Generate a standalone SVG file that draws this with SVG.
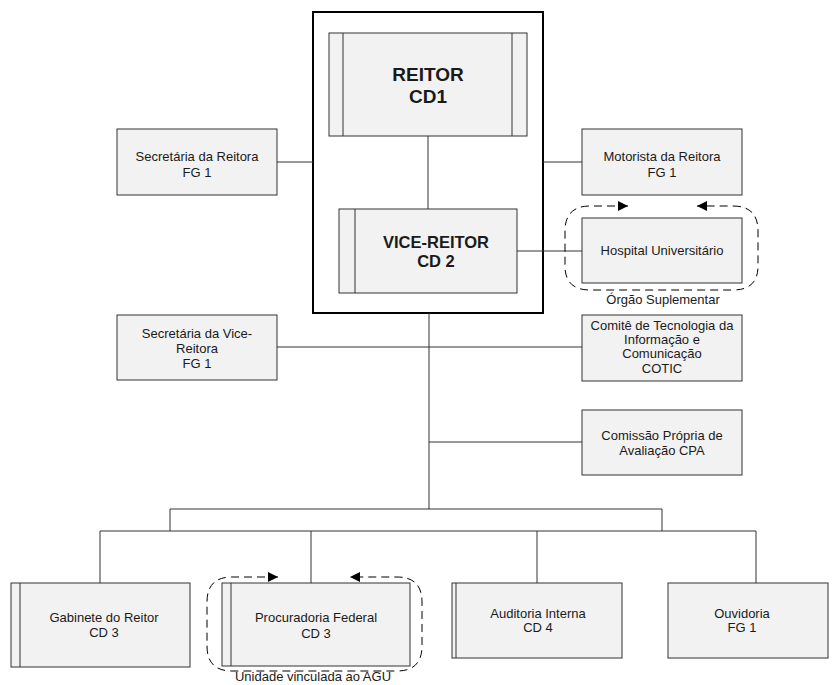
<svg xmlns="http://www.w3.org/2000/svg" width="835" height="685" viewBox="0 0 835 685">
  <defs>
    <marker id="arrow" viewBox="0 0 10 10" refX="10" refY="5" markerWidth="10" markerHeight="10" markerUnits="userSpaceOnUse" orient="auto-start-reverse">
      <path d="M0,0 L10,5 L0,10 z" fill="#000"/>
    </marker>
  </defs>
  <style>
    .box { fill: #f2f2f2; stroke: #333; stroke-width: 1; }
    .bar { stroke: #333; stroke-width: 1; fill: none; }
    .frame { fill: #fff; stroke: #000; stroke-width: 2; }
    .link { stroke: #333; stroke-width: 1; fill: none; }
    .loop { stroke: #000; stroke-width: 1; fill: none; stroke-dasharray: 8 5; }
    text { font-family: "Liberation Sans", Arial, sans-serif; fill: #1a1a1a; text-anchor: middle; }
    .t { font-size: 13px; }
    .big { font-size: 19px; font-weight: bold; }
    .mid { font-size: 16.5px; font-weight: bold; }
    .cap { font-size: 13px; }
  </style>

  <rect id="white" x="0" y="0" width="835" height="685" fill="#fff"/>

  <!-- frame around rector and vice-rector -->
  <rect id="frame" class="frame" x="313" y="12" width="230" height="301"/>

  <!-- connectors -->
  <g id="connectors">
    <line class="link" x1="428" y1="136" x2="428" y2="209"/>
    <line class="link" x1="277" y1="162" x2="313" y2="162"/>
    <line class="link" x1="543" y1="162" x2="582" y2="162"/>
    <line class="link" x1="517" y1="251" x2="582" y2="251"/>
    <line class="link" x1="429" y1="313" x2="429" y2="509"/>
    <line class="link" x1="277" y1="347" x2="582" y2="347"/>
    <line class="link" x1="429" y1="442" x2="582" y2="442"/>
    <polyline class="link" points="170,531 170,509 662,509 662,531"/>
    <line class="link" x1="100" y1="531" x2="756" y2="531"/>
    <line class="link" x1="100" y1="531" x2="100" y2="583"/>
    <line class="link" x1="311" y1="531" x2="311" y2="583"/>
    <line class="link" x1="537" y1="531" x2="537" y2="583"/>
    <line class="link" x1="756" y1="531" x2="756" y2="583"/>
  </g>

  <g id="reitor">
    <rect class="box" x="329" y="33" width="198" height="103"/>
    <line class="bar" x1="343" y1="33" x2="343" y2="136"/>
    <line class="bar" x1="512" y1="33" x2="512" y2="136"/>
    <text class="big" x="428" y="81">REITOR</text>
    <text class="big" x="428" y="103">CD1</text>
  </g>

  <g id="vice-reitor">
    <rect class="box" x="339" y="209" width="178" height="84"/>
    <line class="bar" x1="355" y1="209" x2="355" y2="293"/>
    <text class="mid" x="436" y="248">VICE-REITOR</text>
    <text class="mid" x="436" y="267">CD 2</text>
  </g>

  <g id="secretaria-reitora">
    <rect class="box" x="117" y="129" width="160" height="66"/>
    <text class="t" x="197" y="161">Secretária da Reitora</text>
    <text class="t" x="197" y="177">FG 1</text>
  </g>

  <g id="motorista">
    <rect class="box" x="582" y="129" width="160" height="66"/>
    <text class="t" x="662" y="161">Motorista da Reitora</text>
    <text class="t" x="662" y="177">FG 1</text>
  </g>

  <g id="hospital">
    <path class="loop" d="M628,206 L590,206 Q565,206 565,231 L565,266 Q565,290 590,290 L733,290 Q758,290 758,266 L758,231 Q758,206 733,206 L697,206" marker-start="url(#arrow)" marker-end="url(#arrow)"/>
    <rect class="box" x="582" y="218" width="160" height="65"/>
    <text class="t" x="662" y="255">Hospital Universitário</text>
    <text class="cap" x="663" y="304">Órgão Suplementar</text>
  </g>

  <g id="secretaria-vice">
    <rect class="box" x="117" y="315" width="160" height="65"/>
    <text class="t" x="197" y="338">Secretária da Vice-</text>
    <text class="t" x="197" y="353">Reitora</text>
    <text class="t" x="197" y="368">FG 1</text>
  </g>

  <g id="cotic">
    <rect class="box" x="582" y="315" width="160" height="66"/>
    <text class="t" x="662" y="330">Comitê de Tecnologia da</text>
    <text class="t" x="662" y="344">Informação e</text>
    <text class="t" x="662" y="358">Comunicação</text>
    <text class="t" x="662" y="373">COTIC</text>
  </g>

  <g id="cpa">
    <rect class="box" x="582" y="410" width="160" height="65"/>
    <text class="t" x="662" y="440">Comissão Própria de</text>
    <text class="t" x="662" y="455">Avaliação CPA</text>
  </g>

  <g id="gabinete">
    <rect class="box" x="11" y="583" width="179" height="84"/>
    <line class="bar" x1="20" y1="583" x2="20" y2="667"/>
    <text class="t" x="104" y="622">Gabinete do Reitor</text>
    <text class="t" x="104" y="637">CD 3</text>
  </g>

  <g id="procuradoria">
    <path class="loop" d="M278,577 L232,577 Q207,577 207,602 L207,646 Q207,671 232,671 L397,671 Q422,671 422,646 L422,602 Q422,577 397,577 L350,577" marker-start="url(#arrow)" marker-end="url(#arrow)"/>
    <rect class="box" x="222" y="583" width="188" height="83"/>
    <line class="bar" x1="231" y1="583" x2="231" y2="666"/>
    <text class="t" x="316" y="622">Procuradoria Federal</text>
    <text class="t" x="316" y="638">CD 3</text>
    <text class="cap" x="313" y="681">Unidade vinculada ao AGU</text>
  </g>

  <g id="auditoria">
    <rect class="box" x="452" y="583" width="170" height="75"/>
    <line class="bar" x1="456" y1="583" x2="456" y2="658"/>
    <text class="t" x="538" y="618">Auditoria Interna</text>
    <text class="t" x="538" y="632">CD 4</text>
  </g>

  <g id="ouvidoria">
    <rect class="box" x="668" y="583" width="160" height="75"/>
    <text class="t" x="742" y="618">Ouvidoria</text>
    <text class="t" x="742" y="632">FG 1</text>
  </g>
</svg>
